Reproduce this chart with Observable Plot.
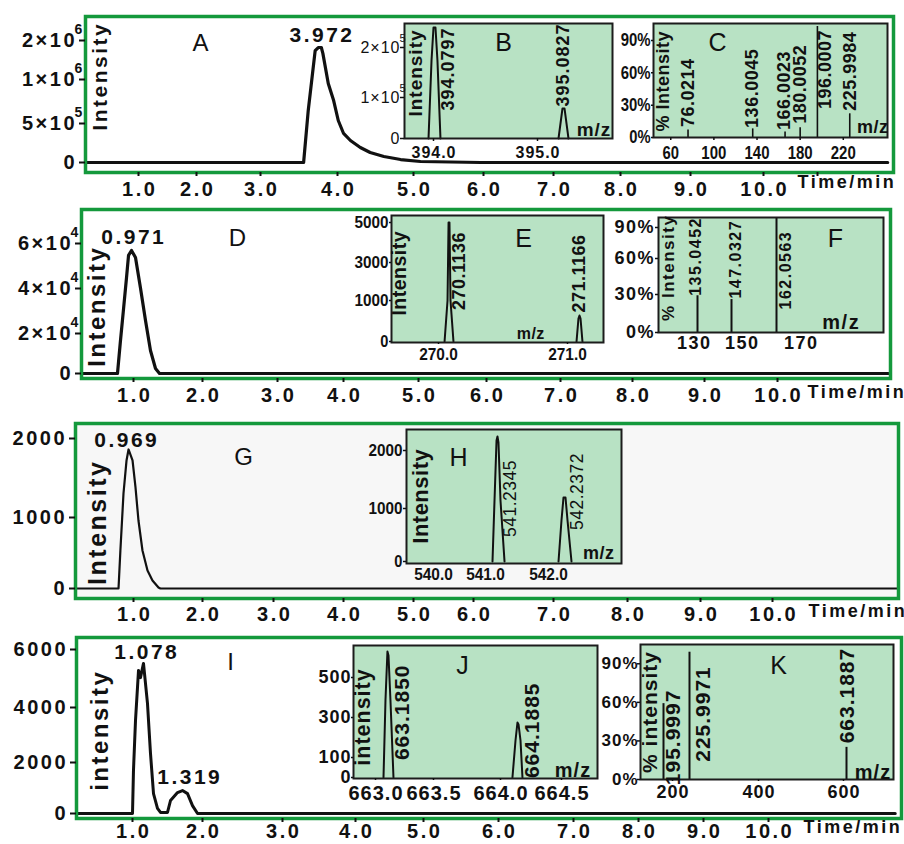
<!DOCTYPE html>
<html><head><meta charset="utf-8">
<script src="https://cdn.jsdelivr.net/npm/d3@7"></script>
<script src="https://cdn.jsdelivr.net/npm/@observablehq/plot@0.6"></script>
<style>
body{margin:0;background:#fff;}
#chart{position:relative;width:904px;height:844px;overflow:hidden;background:#fff;}
#chart svg{position:absolute;left:0;top:0;overflow:visible;background:transparent;}
</style></head><body><div id="chart"></div>
<script>
// ================= DATA =================
const timeTicks = [1, 2, 3, 4, 5, 6, 7, 8, 9, 10];
const timeTickLabels = ["1.0", "2.0", "3.0", "4.0", "5.0", "6.0", "7.0", "8.0", "9.0", "10.0"];

// chromatograms [time (min), intensity]
const traceA = [[0.09,0],[3.56,0],[3.62,648000],[3.71,1740000],[3.75,1820000],[3.79,1820000],[3.81,1670000],[3.88,955000],[3.95,761000],[4.01,534000],[4.08,372000],[4.17,282000],[4.30,192000],[4.43,128000],[4.61,77000],[4.83,38000],[5.10,13000],[5.96,0],[12.3,0]];
const traceD = [[0.25,0],[0.768,0],[0.81,16000],[0.855,30700],[0.899,44900],[0.928,54700],[0.971,56900],[1.029,53800],[1.10,40400],[1.174,25800],[1.246,11500],[1.319,2500],[1.377,0],[11.52,0]];
const traceG = [[0.16,0],[0.783,0],[0.81,535],[0.855,1304],[0.899,1722],[0.928,1861],[0.986,1722],[1.029,1380],[1.072,958],[1.13,535],[1.203,253],[1.275,113],[1.362,14],[1.39,0],[11.75,0]];
const traceI = [[0.2,0],[1.0,0],[1.014,1690],[1.043,3530],[1.086,5280],[1.114,5030],[1.157,5520],[1.214,4140],[1.257,2330],[1.30,780],[1.357,200],[1.40,40],[1.50,40],[1.543,510],[1.643,820],[1.714,900],[1.786,780],[1.857,310],[1.929,0],[11.95,0]];

const yTicksA = [0, 5e5, 1e6, 2e6], yLabelsA = ["0", "5×10^5", "1×10^6", "2×10^6"];
const yTicksD = [0, 2e4, 4e4, 6e4], yLabelsD = ["0", "2×10^4", "4×10^4", "6×10^4"];
const yTicksG = [0, 1000, 2000], yLabelsG = ["0", "1000", "2000"];
const yTicksI = [0, 2000, 4000, 6000], yLabelsI = ["0", "2000", "4000", "6000"];

const peaksA = [{t: 3.77, i: 1820000, text: "3.972"}];
const peaksD = [{t: 0.971, i: 56900, text: "0.971"}];
const peaksG = [{t: 0.928, i: 1861, text: "0.969"}];
const peaksI = [{t: 1.157, i: 5520, text: "1.078"}, {t: 1.714, i: 900, text: "1.319"}];

// inset spectra
const bTicksX = [394, 395], bLabelsX = ["394.0", "395.0"];
const bTicksY = [0, 1e5, 2e5], bLabelsY = ["0", "1×10^5", "2×10^5"];
const bPeak1 = [[393.952,0],[393.981,174000],[394.0,240000],[394.019,240000],[394.038,174000],[394.067,0]];
const bPeak2 = [[395.202,0],[395.240,73000],[395.260,73000],[395.298,0]];
const bLabels = [{mz: 394.01, i: 240000, text: "394.0797"}, {mz: 395.25, i: 73000, text: "395.0827"}];

const pctTicks = [0, 30, 60, 90], pctLabels = ["0%", "30%", "60%", "90%"];
const cTicksX = [60, 100, 140, 180, 220];
const cBars = [[76.0214,7],[136.0045,8],[166.0023,5],[180.0052,9],[196.0007,103],[225.9984,22]];
const cLabels = ["76.0214", "136.0045", "166.0023", "180.0052", "196.0007", "225.9984"];

const eTicksX = [270, 271], eLabelsX = ["270.0", "271.0"];
const eTicksY = [0, 1000, 3000, 5000];
const ePeak1 = [[270.047,0],[270.070,1000],[270.078,5000],[270.085,5000],[270.093,1000],[270.116,0]];
const ePeak2 = [[271.070,0],[271.085,561],[271.093,634],[271.101,561],[271.116,0]];
const eLabels = [{mz: 270.08, i: 5000, text: "270.1136"}, {mz: 271.093, i: 634, text: "271.1166"}];

const fTicksX = [130, 150, 170];
const fBars = [[135.0452,29],[147.0327,26],[162.0563,99]];
const fLabels = ["135.0452", "147.0327", "162.0563"];

const hTicksX = [540, 541, 542], hLabelsX = ["540.0", "541.0", "542.0"];
const hTicksY = [0, 1000, 2000];
const hPeak1 = [[541.111,0],[541.143,1138],[541.175,2172],[541.190,2241],[541.206,2138],[541.238,1138],[541.302,0]];
const hPeak2 = [[542.159,0],[542.206,774],[542.238,1190],[542.270,1190],[542.302,774],[542.365,0]];
const hLabels = [{mz: 541.19, i: 2241, text: "541.2345"}, {mz: 542.254, i: 1190, text: "542.2372"}];

const jTicksX = [663, 663.5, 664, 664.5], jLabelsX = ["663.0", "663.5", "664.0", "664.5"];
const jTicksY = [0, 100, 300, 500];
const jPeak1 = [[663.069,0],[663.086,385],[663.103,630],[663.112,610],[663.129,385],[663.155,0]];
const jPeak2 = [[664.098,0],[664.123,185],[664.139,275],[664.148,265],[664.164,185],[664.180,0]];
const jLabels = [{mz: 663.103, i: 630, text: "663.1850"}, {mz: 664.139, i: 275, text: "664.1885"}];

const kTicksX = [200, 400, 600];
const kBars = [[195.9997,59],[225.9971,99],[663.1887,25]];
const kLabels = ["195.9997", "225.9971", "663.1887"];

// ================= LAYOUT / STYLE =================
const W = 904, H = 844;
const GREEN = "#14993c", MINT = "#b8e2c4", INK = "#111";
const FONT = '"Liberation Sans", Arial, Helvetica, sans-serif';
const chart = document.getElementById("chart");

function at(box, p) { return {frameAnchor: "top-left", dx: p[0] - box[0], dy: p[1] - box[1]}; }
function fmt(ticks, labels) { return d => { const k = ticks.indexOf(d); return k < 0 ? "" : (labels ? labels[k] : String(d)); }; }

// force tick-label font styling
function styleTicks(svg, axis, fs, fw) {
  svg.querySelectorAll(`g[aria-label="${axis}-axis tick label"]`).forEach(g => {
    g.setAttribute("font-size", fs); g.setAttribute("font-weight", fw);
    g.querySelectorAll("text").forEach(t => { t.style.fontSize = fs + "px"; t.style.fontWeight = fw; });
  });
}

function supers(svg, size, yoff) {
  svg.querySelectorAll("text").forEach(t => {
    const s = t.textContent, k = s.indexOf("^");
    if (k < 0) return;
    t.textContent = s.slice(0, k);
    const e = t.cloneNode(false);
    e.textContent = s.slice(k + 1);
    e.setAttribute("text-anchor", "start");
    e.setAttribute("data-sup", "1");
    e.style.fontSize = size + "px";
    e.setAttribute("y", yoff);
    e.removeAttribute("dy");
    t.after(e);
  });
}

// widen horizontal texts (the original is stretched sideways) and condense narrow tick faces
function spacing(svg, ls, narrow) {
  svg.querySelectorAll("text").forEach(t => {
    if (t.closest('g[aria-label="vlabel"]') || t.getAttribute("data-sup")) return;
    const len = t.getComputedTextLength();
    if (!(len > 0)) return;
    const n = t.textContent.length;
    const tick = t.closest('g[aria-label$="tick label"]');
    const f = tick && narrow ? narrow : 1;
    const L = len * f + ls * (n - 1);
    if (Math.abs(L - len) < 0.5) return;
    t.setAttribute("textLength", L.toFixed(2));
    t.setAttribute("lengthAdjust", f !== 1 ? "spacingAndGlyphs" : "spacing");
  });
}

function mk(box, x, y, marks, opt) {
  const svg = Plot.plot({
    width: W, height: H,
    marginLeft: box[0], marginTop: box[1], marginRight: W - box[2], marginBottom: H - box[3],
    x: {type: "linear", domain: x.domain, range: x.range},
    y: {type: "linear", domain: y.domain, range: y.range},
    marks
  });
  svg.setAttribute("font-family", FONT);
  svg.style.background = "transparent";
  styleTicks(svg, "x", opt.xfs, opt.xfw);
  styleTicks(svg, "y", opt.yfs, opt.yfw);
  if (opt.sup) supers(svg, opt.sup[0], opt.sup[1]);
  chart.appendChild(svg);
  spacing(svg, opt.ls, opt.narrow);
}

function mainPanel(c) {
  const marks = [];
  if (c.fill) marks.push(Plot.frame({fill: c.fill, stroke: "none"}));
  marks.push(Plot.line(c.trace, {x: d => d[0], y: d => d[1], stroke: INK, strokeWidth: c.lw, strokeLinejoin: "round"}));
  marks.push(Plot.frame({stroke: GREEN, strokeWidth: 3.5}));
  marks.push(Plot.axisY({ticks: c.yTicks, tickFormat: fmt(c.yTicks, c.yLabels), anchor: "left", tickSize: 6, tickPadding: 5,
    fontSize: 20, fontWeight: "bold", strokeWidth: 2, stroke: INK, fill: INK, label: null}));
  marks.push(Plot.axisX({ticks: c.xTicks, tickFormat: fmt(timeTicks, timeTickLabels), anchor: "bottom", tickSize: 4, tickPadding: c.xtp,
    fontSize: 20, fontWeight: "bold", strokeWidth: 2, stroke: INK, fill: INK, label: null}));
  c.peaks.forEach((p, k) => marks.push(Plot.text([p], {x: "t", y: "i", text: "text", dx: c.peakOff[k][0], dy: c.peakOff[k][1],
    fontSize: 21, fontWeight: "bold", fill: INK})));
  marks.push(Plot.text([c.letter], {...at(c.box, c.letterPos), text: d => d, textAnchor: "middle", lineAnchor: "middle", fontSize: 24, fill: INK}));
  marks.push(Plot.text([c.ylab], {...at(c.box, c.ylabPos), text: d => d, textAnchor: "middle", lineAnchor: "middle", rotate: -90,
    fontSize: c.ylabSize, fontWeight: "bold", fill: INK, ariaLabel: "vlabel"}));
  marks.push(Plot.text(["Time/min"], {...at(c.box, c.timePos), text: d => d, textAnchor: "start", lineAnchor: "middle", fontSize: 18, fontWeight: "bold", fill: INK}));
  mk(c.box, c.x, c.y, marks, {ls: 2.5, sup: [14, -7], xfs: 20, xfw: "bold", yfs: 20, yfw: "bold"});
}

function inset(c) {
  const marks = [Plot.frame({fill: MINT, stroke: "none"})];
  (c.peaks || []).forEach(p => marks.push(Plot.line(p, {x: d => d[0], y: d => d[1], stroke: INK, strokeWidth: 2, strokeLinejoin: "round"})));
  if (c.bars) marks.push(Plot.ruleX(c.bars, {x: d => d[0], y1: 0, y2: d => d[1], stroke: INK, strokeWidth: c.barW || 2}));
  marks.push(Plot.frame({stroke: "#1c1c1c", strokeWidth: 2}));
  marks.push(Plot.axisY({ticks: c.yTicks, tickFormat: fmt(c.yTicks, c.yLabels), anchor: "left", tickSize: c.ya.ts, tickPadding: c.ya.tp,
    fontSize: c.ya.fs, fontWeight: c.ya.fw, strokeWidth: 1.5, stroke: INK, fill: INK, label: null}));
  marks.push(Plot.axisX({ticks: c.xTicks, tickFormat: fmt(c.xTicks, c.xLabels), anchor: "bottom", tickSize: c.xa.ts, tickPadding: c.xa.tp,
    fontSize: c.xa.fs, fontWeight: c.xa.fw, strokeWidth: 1.5, stroke: INK, fill: INK, label: null}));
  c.labels.forEach((l, k) => {
    const o = c.labelOff[k];
    marks.push(Plot.text([l], {x: "mz", y: "i", text: "text", rotate: -90, textAnchor: o[0], lineAnchor: "middle", dx: o[1], dy: o[2],
      fontSize: c.labelSize, fontWeight: c.labelWeight || "bold", fill: INK, ariaLabel: "vlabel"}));
  });
  marks.push(Plot.text([c.letter], {...at(c.box, c.letterPos), text: d => d, textAnchor: "middle", lineAnchor: "middle", fontSize: 25, fill: INK}));
  marks.push(Plot.text(["m/z"], {...at(c.box, c.mzPos), text: d => d, textAnchor: "middle", lineAnchor: "middle", fontSize: c.mzSize, fontWeight: "bold", fill: INK}));
  marks.push(Plot.text([c.ylab], {...at(c.box, c.ylabPos), text: d => d, textAnchor: "middle", lineAnchor: "middle", rotate: -90,
    fontSize: c.ylabSize, fontWeight: c.ylabWeight || "bold", fill: INK, ariaLabel: "vlabel"}));
  mk(c.box, c.x, c.y, marks, {ls: c.ls, sup: c.sup, narrow: c.narrow, xfs: c.xa.fs, xfw: c.xa.fw, yfs: c.ya.fs, yfw: c.ya.fw});
}

const barLabels = (bars, texts) => bars.map((b, k) => ({mz: b[0], i: b[1], text: texts[k]}));

// ---------- main chromatograms ----------
mainPanel({box: [85, 16, 893, 172], x: {domain: [1,2,3,4,5,6,7,8,9,10,11], range: [138,196,260,337,413,483,553,620,690,763,817]},
  y: {domain: yTicksA, range: [162,123,79,40]}, trace: traceA, lw: 3.2, yTicks: yTicksA, yLabels: yLabelsA, xtp: 4.9,
  xTicks: [...timeTicks, 11], peaks: peaksA, peakOff: [[1,-12]], letter: "A", letterPos: [200,43],
  ylab: "Intensity", ylabPos: [100,77], ylabSize: 21, timePos: [797,182]});
mainPanel({box: [81, 209, 890, 378], x: {domain: timeTicks, range: [133,202,277,343,418,486,560,632,704,777]},
  y: {domain: yTicksD, range: [373,333,288,243]}, trace: traceD, lw: 3.2, yTicks: yTicksD, yLabels: yLabelsD, xtp: 4.9,
  xTicks: timeTicks, peaks: peaksD, peakOff: [[1,-13]], letter: "D", letterPos: [237,238],
  ylab: "Intensity", ylabPos: [97,307], ylabSize: 24, timePos: [807,392]});
mainPanel({box: [75, 423, 898, 598], x: {domain: timeTicks, range: [133,202,273,343,413,473,553,627,700,772]},
  y: {domain: yTicksG, range: [588,517,438]}, trace: traceG, lw: 2.2, fill: "#f7f7f7", yTicks: yTicksG, yLabels: yLabelsG, xtp: 4.2,
  xTicks: timeTicks, peaks: peaksG, peakOff: [[-3,-9]], letter: "G", letterPos: [243,457],
  ylab: "Intensity", ylabPos: [97,523], ylabSize: 25, timePos: [808,611]});
mainPanel({box: [76, 637, 901, 818], x: {domain: timeTicks, range: [132,202,282,355,423,498,573,638,703,768]},
  y: {domain: yTicksI, range: [813,762,707,649]}, trace: traceI, lw: 3, yTicks: yTicksI, yLabels: yLabelsI, xtp: 1.5,
  xTicks: timeTicks, peaks: peaksI, peakOff: [[2,-11],[6,-13]], letter: "I", letterPos: [230,662],
  ylab: "intensity", ylabPos: [100,731], ylabSize: 24, timePos: [803,827]});

// ---------- insets ----------
inset({box: [404, 23, 612, 138], x: {domain: bTicksX, range: [433,537]}, y: {domain: bTicksY, range: [138,97,47]},
  peaks: [bPeak1, bPeak2], yTicks: bTicksY, yLabels: bLabelsY, xTicks: bTicksX, xLabels: bLabelsX,
  ya: {ts: 4, tp: 1, fs: 16, fw: "normal"}, xa: {ts: 3, tp: 5, fs: 16, fw: "bold"},
  labels: bLabels, labelOff: [["end",14,1],["start",0,-2]], labelSize: 18,
  letter: "B", letterPos: [503,42], mzPos: [593,129], mzSize: 19, ylab: "Intensity", ylabPos: [415,73], ylabSize: 19, ls: 1, sup: [11, -6]});
inset({box: [653, 23, 887, 137], x: {domain: [44,261], range: [653,887]}, y: {domain: [0,105.8], range: [137,23]},
  bars: cBars, barW: 1.6, yTicks: pctTicks, yLabels: pctLabels, xTicks: cTicksX,
  ya: {ts: 2, tp: 1, fs: 18, fw: "bold"}, xa: {ts: 3, tp: 5.5, fs: 18, fw: "bold"},
  labels: barLabels(cBars, cLabels), labelOff: [["start",0,-3],["start",0,-1],["start",-1,-2],["start",0,-4],["end",8,4],["start",0,-3]], labelSize: 18,
  letter: "C", letterPos: [717,42], mzPos: [872,127], mzSize: 18, ylab: "% Intensity", ylabPos: [663,81], ylabSize: 18, ls: 0.5, narrow: 0.8});
inset({box: [391, 215, 603, 342], x: {domain: eTicksX, range: [438,567]}, y: {domain: eTicksY, range: [341,300,262,222]},
  peaks: [ePeak1, ePeak2], yTicks: eTicksY, xTicks: eTicksX, xLabels: eLabelsX,
  ya: {ts: 2, tp: 1, fs: 17, fw: "bold"}, xa: {ts: 2, tp: 3, fs: 17, fw: "bold"},
  labels: eLabels, labelOff: [["end",10,10],["start",0,-3]], labelSize: 18,
  letter: "E", letterPos: [523,238], mzPos: [530,333], mzSize: 16, ylab: "Intensity", ylabPos: [399,273], ylabSize: 19.5, ls: 0.5, narrow: 0.86});
inset({box: [658, 217, 883, 332], x: {domain: [115,130,135.0452,147.0327,150,162.0563,170,200], range: [658,693,697,731,741,776,800,883]},
  y: {domain: [0,30,60,90,99.7], range: [332,294,258,227,217]},
  bars: fBars, barW: 2, yTicks: pctTicks, yLabels: pctLabels, xTicks: fTicksX,
  ya: {ts: 3, tp: 2, fs: 18, fw: "bold"}, xa: {ts: 0, tp: 3.6, fs: 18, fw: "bold"},
  labels: barLabels(fBars, fLabels), labelOff: [["start",-2,0],["start",4,-1],["end",9,14]], labelSize: 16,
  letter: "F", letterPos: [835,238], mzPos: [840,322], mzSize: 20, ylab: "% Intensity", ylabPos: [668,268], ylabSize: 17, ls: 1.5});
inset({box: [406, 429, 621, 563], x: {domain: hTicksX, range: [433,485,548]}, y: {domain: hTicksY, range: [561,508,450]},
  peaks: [hPeak1, hPeak2], yTicks: hTicksY, xTicks: hTicksX, xLabels: hLabelsX,
  ya: {ts: 3, tp: 1, fs: 17, fw: "bold"}, xa: {ts: 0, tp: 4, fs: 17, fw: "bold"},
  labels: hLabels, labelOff: [["end",13,24],["end",13,-44]], labelSize: 17.5, labelWeight: "normal",
  letter: "H", letterPos: [458,457], mzPos: [598,553], mzSize: 18, ylab: "Intensity", ylabPos: [420,496], ylabSize: 22, ls: 0.5, narrow: 0.86});
inset({box: [353, 645, 597, 778], x: {domain: jTicksX, range: [375,433,500,561]}, y: {domain: [0,660], range: [777,645]},
  peaks: [jPeak1, jPeak2], yTicks: jTicksY, xTicks: jTicksX, xLabels: jLabelsX,
  ya: {ts: 2, tp: 1, fs: 18, fw: "bold"}, xa: {ts: 2, tp: 5, fs: 20, fw: "bold"},
  labels: jLabels, labelOff: [["end",15,14],["end",15,-39]], labelSize: 21,
  letter: "J", letterPos: [462,665], mzPos: [572,770], mzSize: 20, ylab: "intensity", ylabPos: [363,717], ylabSize: 21.5, ls: 1});
inset({box: [640, 644, 893, 779], x: {domain: [150,195.9997,200,225.9971,400,600,663.1887,700], range: [640,663,672,689,758,843,846,893]},
  y: {domain: [0,105], range: [779,644]},
  bars: kBars, barW: 2, yTicks: pctTicks, yLabels: pctLabels, xTicks: kTicksX,
  ya: {ts: 3, tp: 0, fs: 17, fw: "bold"}, xa: {ts: 2, tp: 3.6, fs: 18, fw: "bold"},
  labels: barLabels(kBars, kLabels), labelOff: [["end",10,-13],["end",14,15],["start",1,-4]], labelSize: 21,
  letter: "K", letterPos: [778,665], mzPos: [872,772], mzSize: 20, ylab: "% intensity", ylabPos: [650,712], ylabSize: 21, ls: 1});
</script></body></html>
